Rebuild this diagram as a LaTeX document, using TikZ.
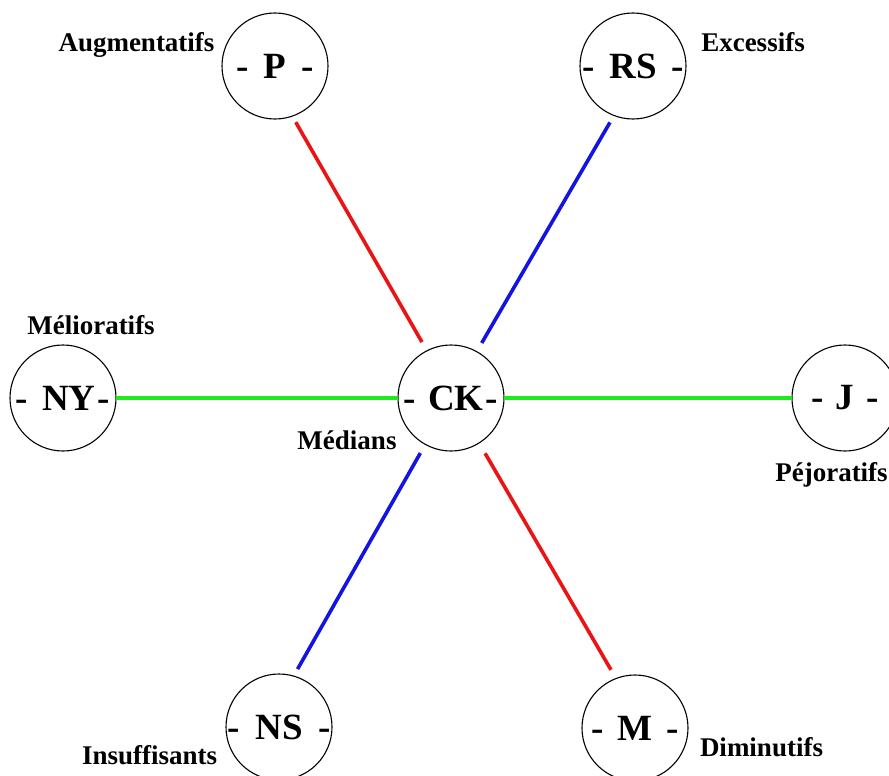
\documentclass[tikz,border=0pt]{standalone}
\usepackage{fontspec}
\setmainfont{Liberation Serif}
\definecolor{lred}{RGB}{235,20,20}
\definecolor{lblue}{RGB}{20,20,225}
\definecolor{lgreen}{RGB}{30,235,30}
\tikzset{
  ring/.style={circle, draw=black, line width=1.1pt, minimum size=106pt, inner sep=0pt, outer sep=0pt, fill=white,
    font=\bfseries\fontsize{37}{40}\selectfont},
  lab/.style={anchor=base, inner sep=0pt, font=\bfseries\fontsize{27}{32}\selectfont},
  link/.style={line width=3.6pt},
}
\newcommand{\ctext}[3]{\makebox[0pt]{-\hspace{#1}#3\hspace{#2}-}}
\begin{document}
\begin{tikzpicture}[x=1pt,y=-1pt]
\useasboundingbox (0,0) rectangle (889,776);
\node[ring] (P)  at (275,66)  {\ctext{15pt}{15pt}{P}};
\node[ring] (RS) at (633,66)  {\ctext{15pt}{15pt}{RS}};
\node[ring] (NY) at (63,398)  {\ctext{14pt}{2pt}{NY}};
\node[ring] (CK) at (451,398) {\ctext{12pt}{2pt}{CK}};
\node[ring] (J)  at (845,398) {\ctext{12pt}{12pt}{J}};
\node[ring] (NS) at (279,727) {\ctext{16pt}{16pt}{NS}};
\node[ring] (M)  at (635,728) {\ctext{14pt}{14pt}{M}};

\draw[link, lred, shorten <=7pt, shorten >=10pt] (P.-71) -- (CK.117.5);
\draw[link, lblue, shorten <=8pt, shorten >=10pt] (RS.249.8) -- (CK.61.4);
\draw[link, lgreen] (NY.0) -- (CK.180);
\draw[link, lgreen] (CK.0) -- (J.180);
\draw[link, lblue, shorten <=10pt, shorten >=8pt] (CK.241) -- (NS.74.8);
\draw[link, lred, shorten <=12pt, shorten >=10pt] (CK.-58) -- (M.111.6);

\node[lab] (lP)  at (136.5,52) {Augmentatifs};
\node[lab] (lRS) at (753,52)   {Excessifs};
\node[lab] (lNY) at (91,334)   {Mélioratifs};
\node[lab] (lCK) at (347,449)  {Médians};
\node[lab] (lJ)  at (831.5,481) {Péjoratifs};
\node[lab] (lNS) at (149.7,764) {Insuffisants};
\node[lab] (lM)  at (761.5,756) {Diminutifs};
\end{tikzpicture}
\end{document}
